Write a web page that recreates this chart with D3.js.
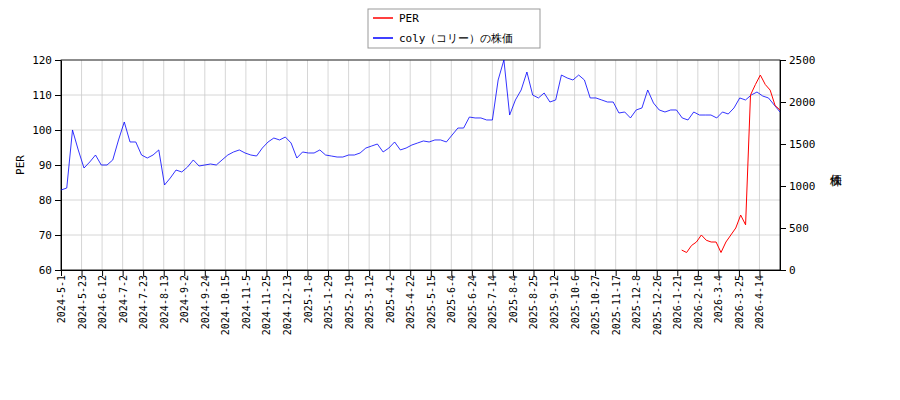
<!DOCTYPE html>
<html>
<head>
<script src="https://cdnjs.cloudflare.com/ajax/libs/d3/7.8.5/d3.min.js"></script>
<style>
  body { margin: 0; background: #fff; }
  text { font-family: "DejaVu Sans Mono", monospace; }
</style>
</head>
<body>
<div id="chart"></div>
<script>
// 目盛りラベル（14営業日ごと）
const tickLabels = ["2024-5-1","2024-5-23","2024-6-12","2024-7-2","2024-7-23","2024-8-13","2024-9-2","2024-9-24","2024-10-15","2024-11-5","2024-11-25","2024-12-13","2025-1-8","2025-1-29","2025-2-19","2025-3-12","2025-4-2","2025-4-22","2025-5-15","2025-6-4","2025-6-24","2025-7-14","2025-8-4","2025-8-25","2025-9-12","2025-10-6","2025-10-27","2025-11-17","2025-12-8","2025-12-26","2026-1-21","2026-2-10","2026-3-4","2026-3-25","2026-4-14"];
const totalDays = 490;

// 株価（円）
const price = [952,976,1667,1429,1214,1286,1369,1250,1250,1310,1548,1762,1524,1524,1369,1333,1369,1429,1012,1095,1190,1167,1226,1310,1238,1250,1262,1250,1310,1369,1405,1429,1393,1369,1357,1452,1524,1571,1548,1583,1512,1333,1405,1393,1393,1429,1369,1357,1345,1345,1369,1369,1393,1452,1476,1500,1405,1452,1524,1429,1452,1488,1512,1536,1524,1548,1548,1524,1607,1690,1690,1821,1810,1810,1786,1786,2262,2500,1845,2024,2143,2357,2083,2048,2107,2000,2024,2321,2286,2262,2321,2262,2048,2048,2024,2000,2000,1869,1881,1810,1905,1929,2143,1988,1905,1881,1905,1905,1810,1786,1881,1845,1845,1845,1810,1881,1857,1929,2048,2024,2083,2119,2071,2048,1964,1881];

// PER
const per = [65.7,65,67,68,70,68.5,68,68,65,68,70,72,75.7,72.9,110,113,115.7,113,111.4,107,105.7];
const perStart = 423;

const W = 900, H = 400;
const m = { l: 61, r: 780, t: 60, b: 270 };

const svg = d3.select("#chart").append("svg").attr("width", W).attr("height", H);

const x = d3.scaleLinear().domain([0, totalDays]).range([m.l, m.r]);
const yL = d3.scaleLinear().domain([60, 120]).range([m.b, m.t]);
const yR = d3.scaleLinear().domain([0, 2500]).range([m.b, m.t]);

const tickIdx = tickLabels.map((d, i) => i * 14);

// グリッド
svg.append("g").selectAll("line").data(tickIdx).join("line")
  .attr("x1", d => x(d)).attr("x2", d => x(d)).attr("y1", m.t).attr("y2", m.b)
  .attr("stroke", "#ccc").attr("stroke-width", 0.8);
svg.append("g").selectAll("line").data(d3.range(60, 121, 10)).join("line")
  .attr("x1", m.l).attr("x2", m.r).attr("y1", d => yL(d)).attr("y2", d => yL(d))
  .attr("stroke", "#ccc").attr("stroke-width", 0.8);

// 軸
const xAxis = svg.append("g").attr("transform", `translate(0,${m.b})`)
  .call(d3.axisBottom(x).tickValues(tickIdx).tickFormat((d, i) => tickLabels[i]).tickSizeOuter(0));
xAxis.selectAll("text").attr("transform", "rotate(-90)").attr("text-anchor", "end")
  .attr("x", -5).attr("y", 0).attr("dy", "0.35em").style("font-size", "10px");

svg.append("g").attr("transform", `translate(${m.l},0)`)
  .call(d3.axisLeft(yL).tickValues(d3.range(60, 121, 10)).tickSizeOuter(0))
  .selectAll("text").style("font-size", "11px");
svg.append("g").attr("transform", `translate(${m.r},0)`)
  .call(d3.axisRight(yR).tickValues(d3.range(0, 2501, 500)).tickFormat(d3.format("d")).tickSizeOuter(0))
  .selectAll("text").style("font-size", "11px");

svg.append("rect").attr("x", m.l).attr("y", m.t).attr("width", m.r - m.l).attr("height", m.b - m.t)
  .attr("fill", "none").attr("stroke", "#000").attr("stroke-width", 0.8);

svg.append("text").attr("transform", `translate(24,165) rotate(-90)`).attr("text-anchor", "middle")
  .style("font-size", "11px").text("PER");
svg.append("text").attr("x", 836).attr("y", 165).attr("text-anchor", "middle")
  .style("font-size", "12px").style("writing-mode", "vertical-rl").text("株価");

// 線
const step = totalDays / (price.length - 1);
svg.append("path").datum(price)
  .attr("d", d3.line().x((d, i) => x(i * step)).y(d => yR(d)))
  .attr("fill", "none").attr("stroke", "blue").attr("stroke-width", 0.8);
const perStep = (totalDays - perStart) / (per.length - 1);
svg.append("path").datum(per)
  .attr("d", d3.line().x((d, i) => x(perStart + i * perStep)).y(d => yL(d)))
  .attr("fill", "none").attr("stroke", "red").attr("stroke-width", 1);

// 凡例
const lg = svg.append("g");
lg.append("rect").attr("x", 368).attr("y", 9).attr("width", 172).attr("height", 39)
  .attr("fill", "#fff").attr("stroke", "#999");
[["PER", "red"], ["coly（コリー）の株価", "blue"]].forEach(([t, c], i) => {
  const yy = 18 + i * 20;
  lg.append("line").attr("x1", 373).attr("x2", 393).attr("y1", yy).attr("y2", yy).attr("stroke", c).attr("stroke-width", 1.5);
  lg.append("text").attr("x", 399).attr("y", yy).attr("dy", "0.35em").style("font-size", "11px").text(t);
});
</script>
</body>
</html>
